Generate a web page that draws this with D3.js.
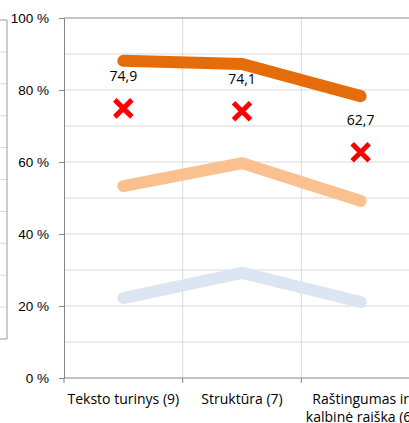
<!DOCTYPE html>
<html>
<head>
<meta charset="utf-8">
<script src="https://cdn.jsdelivr.net/npm/d3@7"></script>
<style>
  body { margin: 0; background: #fff; }
  svg { display: block; font-family: "Open Sans", sans-serif; }
</style>
</head>
<body>
<div id="chart"></div>
<script>
const categories = ["Teksto turinys (9)", "Struktūra (7)", "Raštingumas ir|kalbinė raiška (6)"];
const seriesDark = [88.1, 87.2, 78.3];
const seriesMid = [53.3, 59.7, 49.2];
const seriesLight = [22.2, 29.2, 21.1];
const markerValues = [74.9, 74.1, 62.7];
const markerLabels = ["74,9", "74,1", "62,7"];
const yTicks = [0, 20, 40, 60, 80, 100];
const yGrid = d3.range(0, 101, 10);

const width = 409, height = 423;
const margin = { left: 64, top: 18, bottom: 45 };
const plotRight = 420; // chart continues beyond the visible window

const svg = d3.select("#chart").append("svg")
  .attr("width", width).attr("height", height);

// partial neighbouring chart at the left edge
const leftY = d3.scaleLinear().domain([0, 10]).range([339, 20]);
svg.append("g").selectAll("line")
  .data(d3.range(1, 10))
  .join("line")
  .attr("x1", 0).attr("x2", 7)
  .attr("y1", (d) => leftY(d)).attr("y2", (d) => leftY(d))
  .attr("stroke", "#d9d9d9");
svg.append("path")
  .attr("d", `M0,${leftY(10)}H7V${leftY(0)}H0`)
  .attr("fill", "none").attr("stroke", "#999");

const x = d3.scaleBand().domain(categories).range([margin.left, plotRight]);
const y = d3.scaleLinear().domain([0, 100]).range([height - margin.bottom, margin.top]);

// gridlines
svg.append("g").selectAll("line")
  .data(yGrid.filter((d) => d > 0 && d < 100))
  .join("line")
  .attr("x1", margin.left).attr("x2", width)
  .attr("y1", (d) => y(d)).attr("y2", (d) => y(d))
  .attr("stroke", "#d9d9d9");

svg.append("g").selectAll("line")
  .data(categories.slice(1))
  .join("line")
  .attr("x1", (d) => x(d)).attr("x2", (d) => x(d))
  .attr("y1", y(100)).attr("y2", y(0))
  .attr("stroke", "#d9d9d9");

// top border
svg.append("line")
  .attr("x1", margin.left).attr("x2", width)
  .attr("y1", y(100)).attr("y2", y(100))
  .attr("stroke", "#8c8c8c");

// y axis
const yAxis = svg.append("g")
  .attr("transform", `translate(${margin.left},0)`)
  .call(d3.axisLeft(y).tickValues(yTicks).tickSize(5).tickPadding(10).tickFormat((d) => d + " %"));
yAxis.select(".domain").attr("stroke", "#868686");
yAxis.selectAll(".tick line").attr("stroke", "#868686");
yAxis.selectAll("text").attr("font-size", 13.5).attr("fill", "#000");

// x axis
const xAxis = svg.append("g")
  .attr("transform", `translate(0,${y(0)})`)
  .call(d3.axisBottom(x).tickSize(0).tickFormat(""));
xAxis.select(".domain").attr("stroke", "#868686").attr("d", `M${margin.left},0H${plotRight}`);
svg.append("g").selectAll("line")
  .data(categories)
  .join("line")
  .attr("x1", (d) => x(d)).attr("x2", (d) => x(d))
  .attr("y1", y(0)).attr("y2", y(0) + 5)
  .attr("stroke", "#868686");

svg.append("g").selectAll("text")
  .data(categories)
  .join("text")
  .attr("x", (d) => x(d) + x.bandwidth() / 2)
  .attr("y", y(0) + 26)
  .attr("text-anchor", "middle")
  .attr("font-size", 14)
  .selectAll("tspan")
  .data((d) => d.split("|"))
  .join("tspan")
  .attr("x", function () { return d3.select(this.parentNode).attr("x"); })
  .attr("dy", (d, i) => (i === 0 ? 0 : 18))
  .text((d) => d);

// lines
const cx = (i) => x(categories[i]) + x.bandwidth() / 2;
const line = d3.line().x((d, i) => cx(i)).y((d) => y(d));
[
  [seriesLight, "#dce6f2"],
  [seriesMid, "#fac090"],
  [seriesDark, "#e46c0a"],
].forEach(([values, col]) => {
  svg.append("path")
    .datum(values)
    .attr("d", line)
    .attr("fill", "none")
    .attr("stroke", col)
    .attr("stroke-width", 12)
    .attr("stroke-linecap", "round")
    .attr("stroke-linejoin", "miter");
});

// red X markers
const m = svg.append("g").selectAll("g")
  .data(markerValues)
  .join("g")
  .attr("transform", (d, i) => `translate(${cx(i)},${y(d)})`);
m.append("path")
  .attr("d", "M-8.5,-8.5L8.5,8.5M8.5,-8.5L-8.5,8.5")
  .attr("stroke", "#ff0000")
  .attr("stroke-width", 5);

svg.append("g").selectAll("text")
  .data(markerValues)
  .join("text")
  .attr("x", (d, i) => cx(i))
  .attr("y", (d) => y(d) - 27)
  .attr("text-anchor", "middle")
  .attr("font-size", 14)
  .text((d, i) => markerLabels[i]);
</script>
</body>
</html>
